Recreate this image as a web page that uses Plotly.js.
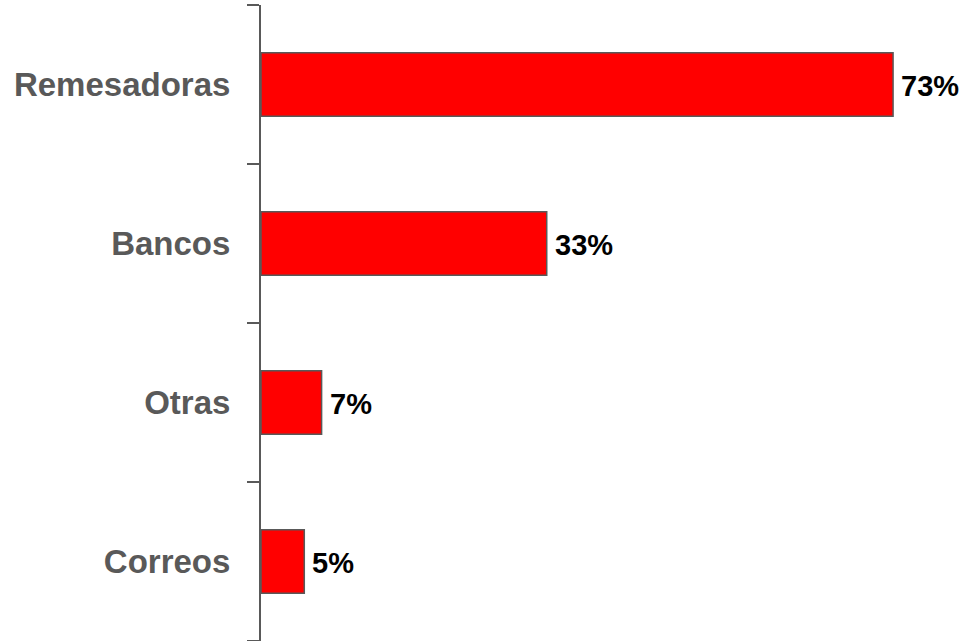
<!DOCTYPE html>
<html>
<head>
<meta charset="utf-8">
<script src="https://cdn.plot.ly/plotly-3.0.1.min.js"></script>
<style>html,body{margin:0;padding:0;background:#fff;}#chart{width:963px;height:641px;}</style>
</head>
<body>
<div id="chart"></div>
<script>
const categories = ['Correos', 'Otras', 'Bancos', 'Remesadoras'];
const values = [5, 7, 33, 73];
const valueLabels = ['5%', '7%', '33%', '73%'];

const trace = {
  type: 'bar',
  orientation: 'h',
  y: categories,
  x: values,
  cliponaxis: false,
  marker: {color: '#FF0000', line: {color: '#595959', width: 1.5}},
  width: 0.4,
  hoverinfo: 'none'
};

const annotations = categories.map((c, i) => ({
  x: values[i],
  y: c,
  xref: 'x',
  yref: 'y',
  text: valueLabels[i],
  showarrow: false,
  xanchor: 'left',
  yanchor: 'middle',
  xshift: 6,
  yshift: -1,
  font: {family: 'Liberation Sans, Arial, sans-serif', size: 29, color: '#000000', weight: 'bold'}
}));

const layout = {
  width: 963,
  height: 641,
  margin: {l: 261, r: 50, t: 5, b: 0},
  paper_bgcolor: '#ffffff',
  plot_bgcolor: '#ffffff',
  showlegend: false,
  annotations: annotations,
  xaxis: {
    range: [0, 75.3],
    visible: false,
    fixedrange: true
  },
  yaxis: {
    type: 'category',
    range: [-0.5, 3.5],
    showline: true,
    linecolor: '#595959',
    linewidth: 2,
    ticks: 'outside',
    tickson: 'boundaries',
    ticklen: 12,
    tickwidth: 2,
    tickcolor: '#595959',
    showgrid: false,
    zeroline: false,
    ticklabelstandoff: 22,
    tickfont: {family: 'Liberation Sans, Arial, sans-serif', size: 33, color: '#595959', weight: 'bold'}
  }
};

Plotly.newPlot('chart', [trace], layout, {displayModeBar: false, staticPlot: true});
</script>
</body>
</html>
